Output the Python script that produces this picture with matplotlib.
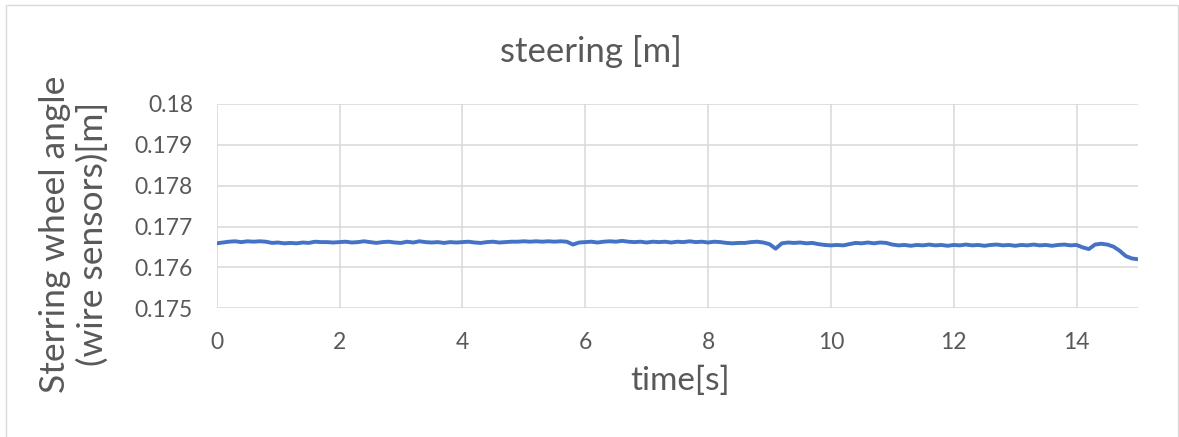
import matplotlib
matplotlib.use("Agg")
import matplotlib.pyplot as plt
from matplotlib.patches import Rectangle

plt.rcParams['font.family'] = ['Lato', 'DejaVu Sans']

# sample times [s]
time_s = [0.0, 0.1, 0.2, 0.3, 0.4, 0.5, 0.6, 0.7, 0.8, 0.9,
          1.0, 1.1, 1.2, 1.3, 1.4, 1.5, 1.6, 1.7, 1.8, 1.9,
          2.0, 2.1, 2.2, 2.3, 2.4, 2.5, 2.6, 2.7, 2.8, 2.9,
          3.0, 3.1, 3.2, 3.3, 3.4, 3.5, 3.6, 3.7, 3.8, 3.9,
          4.0, 4.1, 4.2, 4.3, 4.4, 4.5, 4.6, 4.7, 4.8, 4.9,
          5.0, 5.1, 5.2, 5.3, 5.4, 5.5, 5.6, 5.7, 5.8, 5.9,
          6.0, 6.1, 6.2, 6.3, 6.4, 6.5, 6.6, 6.7, 6.8, 6.9,
          7.0, 7.1, 7.2, 7.3, 7.4, 7.5, 7.6, 7.7, 7.8, 7.9,
          8.0, 8.1, 8.2, 8.3, 8.4, 8.5, 8.6, 8.7, 8.8, 8.9,
          9.0, 9.1, 9.2, 9.3, 9.4, 9.5, 9.6, 9.7, 9.8, 9.9,
          10.0, 10.1, 10.2, 10.3, 10.4, 10.5, 10.6, 10.7, 10.8, 10.9,
          11.0, 11.1, 11.2, 11.3, 11.4, 11.5, 11.6, 11.7, 11.8, 11.9,
          12.0, 12.1, 12.2, 12.3, 12.4, 12.5, 12.6, 12.7, 12.8, 12.9,
          13.0, 13.1, 13.2, 13.3, 13.4, 13.5, 13.6, 13.7, 13.8, 13.9,
          14.0, 14.1, 14.2, 14.3, 14.4, 14.5, 14.6, 14.7, 14.8, 14.9,
          15.0]

# wire sensor reading [m]
steering = [0.17659, 0.17661, 0.17663, 0.17664, 0.17662, 0.17664, 0.17663, 0.17664, 0.17663, 0.17660,
            0.17661, 0.17659, 0.17660, 0.17659, 0.17661, 0.17660, 0.17663, 0.17662, 0.17662, 0.17661,
            0.17662, 0.17663, 0.17661, 0.17662, 0.17664, 0.17662, 0.17660, 0.17662, 0.17663, 0.17661,
            0.17660, 0.17663, 0.17661, 0.17664, 0.17662, 0.17661, 0.17662, 0.17660, 0.17662, 0.17661,
            0.17662, 0.17663, 0.17661, 0.17660, 0.17662, 0.17663, 0.17661, 0.17662, 0.17663, 0.17663,
            0.17664, 0.17663, 0.17664, 0.17663, 0.17664, 0.17663, 0.17664, 0.17663, 0.17656, 0.17661,
            0.17662, 0.17663, 0.17661, 0.17663, 0.17664, 0.17663, 0.17665, 0.17663, 0.17662, 0.17663,
            0.17661, 0.17663, 0.17662, 0.17663, 0.17661, 0.17663, 0.17662, 0.17664, 0.17662, 0.17663,
            0.17661, 0.17663, 0.17662, 0.17660, 0.17659, 0.17660, 0.17660, 0.17662, 0.17663, 0.17661,
            0.17657, 0.17646, 0.17659, 0.17661, 0.17660, 0.17661, 0.17659, 0.17660, 0.17657, 0.17655,
            0.17654, 0.17655, 0.17654, 0.17657, 0.17660, 0.17659, 0.17661, 0.17659, 0.17661, 0.17660,
            0.17656, 0.17654, 0.17655, 0.17653, 0.17655, 0.17654, 0.17656, 0.17654, 0.17655, 0.17653,
            0.17655, 0.17654, 0.17656, 0.17654, 0.17655, 0.17653, 0.17655, 0.17656, 0.17654, 0.17655,
            0.17653, 0.17655, 0.17654, 0.17656, 0.17654, 0.17655, 0.17653, 0.17655, 0.17656, 0.17654,
            0.17655, 0.17649, 0.17645, 0.17656, 0.17658, 0.17656, 0.17651, 0.17641, 0.17628, 0.17622,
            0.17620]

xticks = [0, 2, 4, 6, 8, 10, 12, 14]
yticks = [0.175, 0.176, 0.177, 0.178, 0.179, 0.18]
ytick_labels = ['0.175', '0.176', '0.177', '0.178', '0.179', '0.18']

W, H = 1179, 437
fig = plt.figure(figsize=(W / 100, H / 100), dpi=100)
ax = fig.add_axes([216.7 / W, 1 - 308.3 / H, (1138 - 216.7) / W, (308.3 - 104) / H])

ax.plot(time_s, steering, color='#4472C4', linewidth=2.8, zorder=3)

ax.set_xlim(0, 15)
ax.set_ylim(0.175, 0.18)
ax.set_xticks(xticks)
ax.set_yticks(yticks)
ax.set_yticklabels(ytick_labels)
ax.grid(True, color='#D9D9D9', linewidth=1.1)
ax.set_axisbelow(True)
for s in ax.spines.values():
    s.set_visible(False)
ax.tick_params(length=0, labelsize=16.5, colors='#595959')
ax.tick_params(axis='y', pad=17)
ax.tick_params(axis='x', pad=17)

fig.text(591 / W, 1 - 52 / H, 'steering [m]', ha='center', va='center',
         fontsize=25, color='#595959')
fig.text(680 / W, 1 - 381 / H, 'time[s]', ha='center', va='center',
         fontsize=24, color='#595959')
fig.text(74 / W, 1 - 234 / H, 'Sterring wheel angle\n(wire sensors)[m]', ha='center',
         va='center', rotation=90, fontsize=25.5, color='#595959', linespacing=1.2)

# chart border
fig.patches.append(Rectangle((6 / W, -0.05), (1177.5 - 6) / W, 1.05 - 5 / H,
                             transform=fig.transFigure, fill=False,
                             edgecolor='#D9D9D9', linewidth=1.0))

fig.savefig('out.png', dpi=100)
